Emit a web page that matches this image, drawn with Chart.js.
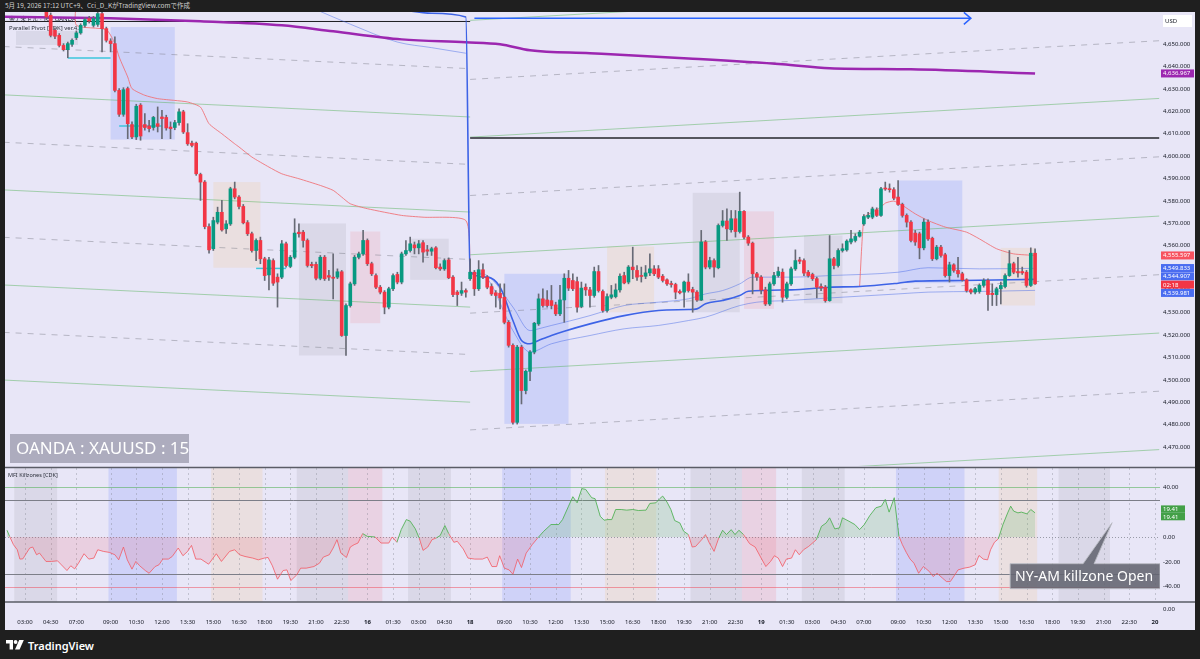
<!DOCTYPE html>
<html lang="ja"><head><meta charset="utf-8"><title>OANDA:XAUUSD 15</title>
<script src="https://cdn.jsdelivr.net/npm/chart.js@4.4.1/dist/chart.umd.min.js"></script>
<style>
html,body{margin:0;padding:0;background:#1f1f1f;width:1200px;height:659px;overflow:hidden}
#hdr{position:absolute;left:5px;top:1px;color:#cfcfcf;font-size:6.5px;line-height:9px;font-family:'Noto Sans CJK JP','Noto Sans',sans-serif;white-space:nowrap}
#wrap{position:absolute;left:5px;top:12px;width:1190px;height:618px;background:#e8e6f7}
#foot{position:absolute;left:6px;top:638px;height:14px;color:#fff;font:600 11px 'Noto Sans',sans-serif;display:flex;align-items:center;gap:4px}
</style></head>
<body>
<div id="hdr">5月 19, 2026 17:12 UTC+9、Cci_D_KがTradingView.comで作成</div>
<div id="wrap"><canvas id="c"></canvas></div>
<div id="foot"><svg width="18" height="10" viewBox="0 0 18 10"><path d="M0 0h7v9.5h-3.4v-6h-3.6z" fill="#fff"/><circle cx="9.6" cy="2" r="1.9" fill="#fff"/><path d="M13.2 0h4.6l-4.2 9.5h-4.6z" fill="#fff"/></svg><span>TradingView</span></div>
<script>
// ---------- time axis (bar index -> label) ----------
const tickIdx  = [0,6,12,20,26,32,38,44,50,56,62,68,74,80,86,92,98,104,112,118,124,130,136,142,148,154,160,166,172,178,184,190,196,204,210,216,222,228,234,240,246,252,258,264];
const tickText = ['03:00','04:30','07:00','09:00','10:30','12:00','13:30','15:00','16:30','18:00','19:30','21:00','22:30','16','01:30','03:00','04:30','18','09:00','10:30','12:00','13:30','15:00','16:30','18:00','19:30','21:00','22:30','19','01:30','03:00','04:30','07:00','09:00','10:30','12:00','13:30','15:00','16:30','18:00','19:30','21:00','22:30','20'];
const dayTicks = [80,104,172,264];
const priceTicks = [4470,4480,4490,4500,4510,4520,4530,4540,4550,4560,4570,4580,4590,4600,4610,4620,4630,4640,4650];
const mfiTicks = [40,0,-20,-40];

// ---------- 15m candles, first bar index ----------
const candleFirstBar = 5;
const opens = [
4665.9,4663.0,4656.3,4654.0,4649.5,4647.6,4650.0,4653.0,4655.1,4658.5,
4661.5,4658.5,4658.9,4663.7,4657.0,4651.5,4650.3,4629.4,4618.7,4630.2,
4614.1,4608.6,4622.8,4614.1,4613.5,4612.8,4614.5,4617.5,4617.3,4613.0,
4612.8,4615.0,4619.8,4610.5,4605.8,4605.8,4591.8,4588.4,4568.5,4558.6,
4570.5,4574.9,4567.5,4569.7,4585.4,4581.7,4577.5,4570.3,4565.3,4557.8,
4562.3,4554.1,4546.9,4553.3,4545.9,4545.9,4560.8,4550.7,4554.8,4566.0,
4566.0,4562.3,4551.6,4551.6,4545.4,4554.8,4546.6,4545.9,4545.9,4548.3,
4519.8,4533.2,4542.9,4554.8,4556.3,4562.3,4551.9,4546.6,4541.4,4539.2,
4532.5,4540.7,4547.1,4543.7,4556.3,4557.8,4560.3,4559.0,4561.3,4558.1,
4557.5,4559.0,4550.4,4549.6,4553.6,4545.9,4539.2,4538.7,4539.9,4545.2,
4548.1,4540.7,4549.2,4545.9,4541.7,4538.9,4538.7,4536.9,4525.7,4515.4,
4481.0,4514.6,4495.2,4503.8,4512.4,4525.0,4536.2,4535.7,4535.4,4533.5,
4529.5,4535.7,4545.4,4544.4,4543.9,4532.8,4541.4,4540.2,4537.7,4548.4,
4539.5,4531.0,4536.9,4537.2,4540.2,4546.6,4543.7,4550.4,4548.9,4546.6,
4546.3,4547.8,4549.6,4549.6,4546.3,4544.7,4542.9,4542.6,4539.5,4539.2,
4543.7,4540.4,4539.2,4535.7,4561.6,4550.4,4553.3,4550.1,4569.0,4571.0,
4567.1,4572.0,4566.3,4575.3,4563.8,4561.1,4547.4,4545.9,4540.2,4533.9,
4542.9,4546.6,4548.1,4536.9,4542.9,4549.6,4553.6,4553.3,4548.1,4547.1,
4545.2,4541.7,4541.4,4535.4,4554.1,4551.1,4557.8,4558.1,4561.6,4562.3,
4564.2,4569.7,4572.7,4572.7,4576.0,4573.5,4585.7,4585.4,4585.0,4581.7,
4578.4,4573.5,4570.5,4565.6,4565.3,4559.0,4570.5,4563.3,4554.1,4559.3,
4555.9,4546.6,4551.4,4548.9,4547.4,4544.7,4540.2,4539.2,4539.5,4542.2,
4544.4,4538.7,4538.1,4540.7,4541.7,4546.6,4551.9,4548.4,4548.4,4548.1,
4542.2,4556.6];
const highs = [
4667.4,4664.0,4657.4,4654.8,4650.3,4651.0,4652.5,4656.0,4659.2,4661.9,
4662.5,4662.5,4665.2,4664.9,4657.7,4652.5,4653.3,4630.2,4630.6,4630.9,
4615.3,4623.2,4623.5,4619.0,4616.0,4617.8,4622.0,4620.5,4618.3,4615.3,
4616.0,4621.2,4620.5,4614.5,4606.7,4606.3,4592.4,4589.1,4569.7,4572.7,
4577.2,4580.2,4571.2,4586.1,4588.4,4582.4,4578.4,4571.2,4566.0,4563.0,
4563.8,4554.8,4554.8,4554.1,4547.4,4562.3,4561.6,4555.6,4572.0,4569.7,
4566.8,4563.0,4552.6,4552.6,4555.6,4555.6,4548.9,4556.3,4549.6,4548.9,
4534.0,4543.7,4555.6,4557.1,4566.8,4563.0,4552.6,4547.4,4542.2,4539.9,
4541.4,4547.4,4548.1,4557.1,4562.3,4563.8,4561.6,4562.3,4562.3,4560.1,
4559.3,4559.6,4551.9,4554.1,4554.5,4546.6,4539.9,4543.7,4540.7,4554.1,
4548.9,4553.3,4551.9,4546.6,4542.9,4539.9,4542.9,4542.9,4526.5,4516.1,
4515.4,4515.4,4504.4,4513.1,4525.7,4538.4,4540.7,4539.9,4542.2,4534.7,
4542.2,4547.4,4548.9,4547.4,4545.9,4543.7,4542.9,4541.4,4550.4,4551.1,
4540.2,4538.4,4542.2,4542.9,4547.4,4548.1,4551.1,4559.3,4551.1,4550.4,
4551.1,4556.3,4551.1,4551.1,4547.1,4545.2,4544.1,4543.2,4540.2,4544.1,
4547.4,4541.4,4539.9,4566.8,4562.3,4554.8,4554.1,4569.7,4575.7,4576.4,
4575.7,4575.7,4583.9,4575.7,4564.5,4561.6,4548.1,4546.6,4541.4,4543.7,
4548.1,4550.4,4549.6,4543.7,4550.4,4558.1,4554.8,4554.1,4548.9,4547.7,
4545.9,4542.9,4542.2,4564.5,4554.8,4558.6,4560.8,4562.6,4566.8,4565.3,
4566.8,4573.9,4574.9,4577.2,4576.9,4586.1,4588.4,4587.6,4585.9,4589.1,
4579.0,4574.2,4571.2,4566.8,4566.0,4572.0,4571.5,4563.8,4560.1,4560.1,
4556.6,4552.6,4551.9,4554.8,4548.1,4545.2,4540.7,4541.4,4542.9,4545.2,
4545.2,4542.9,4541.4,4543.7,4547.4,4557.8,4552.6,4554.8,4550.4,4548.9,
4559.0,4558.6];
const lows = [
4661.0,4653.3,4652.5,4648.8,4647.0,4644.0,4649.1,4652.1,4654.5,4657.7,
4659.5,4657.7,4658.0,4646.6,4651.0,4646.6,4628.7,4617.8,4617.8,4607.8,
4607.8,4607.4,4607.1,4611.6,4610.8,4611.6,4610.8,4607.8,4611.6,4607.8,
4611.8,4613.8,4610.1,4604.8,4604.1,4591.4,4580.2,4567.5,4556.6,4557.8,
4569.7,4566.5,4565.5,4569.0,4580.9,4576.4,4569.7,4564.5,4557.1,4553.3,
4551.9,4544.4,4540.2,4542.2,4532.5,4545.2,4550.4,4550.1,4554.1,4563.8,
4559.3,4550.4,4550.1,4544.7,4544.7,4544.4,4544.4,4536.2,4545.2,4519.4,
4510.9,4532.5,4542.2,4554.1,4555.6,4551.1,4546.6,4540.7,4538.4,4529.5,
4531.7,4539.9,4542.9,4542.9,4555.6,4557.1,4556.3,4556.3,4552.6,4555.6,
4555.6,4549.6,4548.9,4548.9,4545.2,4537.2,4533.2,4537.7,4536.9,4544.4,
4537.7,4539.9,4545.2,4540.7,4537.7,4532.5,4531.7,4525.0,4514.6,4480.2,
4480.2,4489.2,4493.7,4499.6,4511.6,4524.3,4532.5,4532.5,4531.7,4528.7,
4528.7,4525.7,4539.9,4539.9,4530.2,4532.2,4537.7,4532.5,4536.9,4539.2,
4530.2,4530.2,4536.2,4536.6,4539.2,4542.9,4542.9,4545.2,4544.4,4543.7,
4545.2,4546.6,4546.6,4545.2,4543.7,4542.2,4541.4,4536.2,4538.4,4532.5,
4539.2,4530.2,4535.1,4535.4,4549.6,4549.6,4545.9,4549.6,4568.3,4562.3,
4566.0,4563.8,4565.6,4563.0,4560.1,4538.4,4544.4,4538.4,4533.2,4533.2,
4542.2,4545.9,4534.7,4536.2,4542.2,4548.9,4551.9,4546.6,4545.9,4544.4,
4536.6,4539.9,4534.7,4535.1,4549.6,4550.4,4557.1,4557.5,4560.8,4561.6,
4563.8,4569.0,4572.0,4572.0,4573.0,4573.0,4584.7,4583.9,4580.5,4578.0,
4572.7,4568.3,4561.6,4560.1,4554.1,4558.1,4562.3,4553.3,4553.6,4554.8,
4545.9,4543.7,4548.1,4545.9,4544.1,4539.2,4538.4,4538.4,4538.7,4541.4,
4531.0,4533.2,4533.2,4533.9,4541.1,4546.2,4547.4,4545.9,4547.1,4541.4,
4541.7,4542.6];
const closes = [
4662.2,4654.0,4653.6,4649.5,4647.6,4650.3,4651.8,4655.1,4658.5,4661.0,
4660.4,4661.5,4663.7,4657.0,4651.8,4650.3,4629.4,4618.7,4629.7,4614.5,
4608.6,4622.3,4609.0,4612.8,4612.3,4617.3,4613.3,4616.8,4612.6,4612.3,
4615.0,4619.8,4610.8,4605.5,4604.8,4592.1,4588.4,4568.5,4558.1,4571.2,
4574.9,4567.0,4569.7,4585.4,4581.7,4577.5,4570.2,4565.3,4557.8,4562.3,
4554.1,4546.6,4553.6,4543.2,4543.7,4560.8,4551.1,4554.8,4565.6,4565.3,
4562.3,4551.1,4551.0,4545.4,4554.8,4545.2,4545.9,4545.4,4548.3,4519.8,
4533.2,4542.9,4554.8,4556.3,4562.3,4551.9,4547.4,4541.4,4539.2,4532.5,
4540.7,4546.6,4543.7,4556.3,4557.8,4560.8,4559.0,4560.8,4557.1,4557.5,
4558.6,4550.1,4549.6,4553.3,4545.6,4538.1,4538.1,4539.9,4539.2,4548.1,
4540.7,4549.2,4545.9,4541.4,4538.4,4537.7,4536.6,4525.7,4515.4,4481.0,
4514.6,4495.2,4503.8,4512.4,4525.3,4536.2,4533.2,4533.2,4533.2,4529.5,
4535.7,4545.4,4541.0,4540.7,4532.5,4541.0,4540.2,4537.7,4548.4,4539.9,
4531.0,4537.2,4538.0,4540.2,4546.3,4543.3,4550.4,4549.2,4545.9,4546.2,
4547.8,4549.6,4547.4,4545.9,4544.4,4542.9,4542.6,4539.2,4538.9,4543.7,
4539.9,4539.2,4535.7,4561.6,4550.4,4553.3,4550.4,4569.0,4571.0,4567.5,
4572.0,4566.3,4575.3,4563.8,4561.1,4547.4,4545.9,4540.2,4533.9,4542.9,
4546.6,4548.4,4536.9,4542.9,4549.6,4553.3,4553.0,4547.7,4546.6,4545.2,
4541.4,4541.1,4535.4,4554.1,4551.1,4557.8,4558.6,4562.0,4563.0,4564.1,
4566.0,4573.0,4573.5,4576.4,4573.5,4585.4,4585.3,4585.0,4581.2,4578.4,
4573.5,4570.5,4562.3,4561.6,4559.0,4570.5,4563.0,4554.1,4559.3,4555.6,
4546.6,4551.4,4548.9,4547.4,4544.7,4539.9,4539.2,4540.7,4542.2,4544.4,
4538.1,4538.1,4540.7,4542.2,4546.6,4551.9,4548.1,4547.8,4547.8,4542.2,
4556.6,4542.9];

// ---------- overlay lines (bar index, price) ----------
const purpleBar = [-5,20,41,60,72,88,103,111,118,132,155,177,188,207,236];
const purpleVal = [4662.3,4661.6,4660.3,4658.5,4655.8,4652.2,4650.9,4650.0,4647.3,4646.0,4643.7,4641.1,4639.3,4638.8,4636.967];
const pinkBar = [12,12,19,21,22,24,25,28,31,35,38,41,43,46,49,50,53,57,60,64,69,72,74,76,80,88,93,103,104,150,195,196,197,200,201,203,205,208,211,215,220,223,227,231,236];
const pinkVal = [4670,4658.5,4656.5,4650.3,4644.3,4635.4,4630.2,4627.2,4625.7,4624.9,4624.2,4621.9,4614.5,4610.0,4605.5,4604.1,4599.6,4595.1,4592.1,4589.9,4586.9,4584.7,4581.7,4578.7,4576.5,4573.5,4572.7,4571.2,4548.1,null,4541.7,4572.7,4573.9,4577.2,4579.0,4579.9,4578.0,4574.2,4571.2,4568.3,4566.0,4563.0,4558.6,4556.3,4555.597];
const vwapBar = [85,95,103,104,108,111,114,116,118,120,123,126,132,140,148,155,157,159,163,167,169,179,188,195,204,208,219,236];
const vwapMid = [4666.5,4663.9,4662.2,4548.1,4545.9,4541.4,4526.5,4517.6,4516.1,4517.6,4519.8,4521.7,4525.0,4528.7,4531.0,4531.4,4531.7,4534.0,4535.5,4537.7,4539.6,4540.2,4541.4,4541.7,4543.2,4544.1,4544.4,4544.907];
const upBar = [104,108,114,118,120,123,126,132,140,148,155,159,163,167,170,179,188,204,211,223,236];
const upVal = [4548.1,4546.6,4532.5,4522.0,4522.8,4524.3,4525.7,4528.7,4533.2,4534.7,4536.2,4538.4,4539.9,4542.9,4545.9,4545.9,4546.6,4548.1,4550.1,4549.6,4549.833];
const loBar = [104,108,114,118,123,132,140,148,155,159,167,171,179,188,204,211,223,236];
const loVal = [4548.1,4545.2,4522.0,4512.4,4516.1,4519.8,4522.8,4524.3,4526.5,4528.0,4533.2,4534.7,4535.5,4536.6,4538.4,4539.2,4539.5,4539.981];
const friBandBar = [68,76,87,95,103];
const friBandVal = [4665.5,4659.0,4651.0,4648.5,4646.0];
// parallel pivot lines: [start price, end price]
const friLineBars = [-5,104];
const friSolid  = [[4627.4,4617.5],[4584.9,4575.0],[4542.4,4532.5],[4499.9,4490.0]];
const friDashed = [[4649.0,4639.1],[4606.2,4596.3],[4563.7,4553.8],[4521.2,4511.3]];
const monLineBars = [104,265];
const monSolid  = [[4660.7,4678.0],[4608.5,4625.8],[4555.9,4573.2],[4503.7,4520.9],[4451.5,4468.8]];
const monDashed = [[4634.3,4651.6],[4582.4,4599.7],[4529.8,4547.0],[4477.6,4494.9]];
// pivot marks (cyan), horizontal levels
const cyanStart = [10,22,54], cyanEnd = [20,32,61], cyanVal = [4643.9,4613.5,4549.8];
const levelStart = [-5,104], levelEnd = [104,265], levelVal = [4660.2,4608.1];
const arrowBars = [105,221], arrowVal = 4661.6;
// killzone boxes in price pane
const boxStart = [20,44,64,76,90,112,136,156,168,182,204,228];
const boxEnd   = [35,55,75,83,99,127,147,167,175,191,219,236];
const boxHigh  = [4657.7,4588.4,4569.9,4566.3,4563.1,4547.4,4559.6,4583.6,4575.3,4564.5,4589.1,4559.0];
const boxLow   = [4607.4,4550.1,4510.9,4525.3,4544.7,4480.3,4530.2,4530.2,4531.7,4534.2,4543.2,4533.2];
const boxKind  = ['b','t','g','p','g','b','t','g','p','g','b','t'];
// killzone background columns in MFI pane
const zoneStart = [-2,20,44,64,76,90,112,136,156,168,182,204,228,242];
const zoneEnd   = [7,35,55,75,83,99,127,147,167,175,191,219,236,253];
const zoneKind  = ['g','b','t','g','p','g','b','t','g','p','g','b','t','g'];

// ---------- MFI ----------
const mfiBar = [-4.2,-3.6,-2.7,-1.8,-1.2,-0.5,0.2,1.1,1.8,2.7,3.4,4.0,4.9,6.2,7.6,8.5,9.8,10.7,11.6,12.5,13.8,14.9,16.1,17.0,18.3,19.7,21.0,21.9,23.0,23.9,25.0,25.9,26.8,28.1,29.0,30.4,31.3,32.2,33.5,34.4,35.8,36.9,38.0,38.9,39.9,41.1,42.9,44.7,45.9,47.8,49.0,50.1,51.4,53.2,54.5,55.9,56.8,57.8,59.0,60.3,61.2,62.1,63.5,64.4,65.7,67.5,68.8,69.7,71.1,72.0,72.9,73.8,75.1,76.0,76.9,77.8,78.9,80.0,81.8,83.2,85.0,85.8,86.9,87.9,89.1,90.0,91.2,92.1,93.0,94.1,95.1,96.1,97.0,98.1,99.0,100.2,101.0,102.4,103.5,105.1,106.9,108.0,109.1,110.2,110.9,112.0,113.1,114.0,115.1,116.0,117.1,118.5,119.8,121.2,122.9,124.7,125.6,127.0,128.0,129.0,130.1,131.0,132.4,133.2,
134.4,135.3,136.2,137.1,138.0,139.3,140.6,142.0,143.3,145.1,146.0,147.4,148.3,149.0,150.0,150.9,151.8,153.0,153.9,155.0,155.9,156.7,158.1,159.0,159.9,161.0,162.1,163.0,163.9,165.0,165.9,166.8,167.9,169.3,170.6,172.0,173.1,174.2,175.1,176.0,177.0,177.9,179.1,180.0,180.9,181.9,183.1,184.9,186.1,187.2,188.0,189.2,190.3,191.0,192.5,193.9,195.0,196.1,197.4,198.8,200.1,201.0,201.9,203.1,204.2,205.0,205.9,206.8,207.7,208.8,209.9,211.3,212.2,213.1,214.4,215.3,216.2,217.1,218.0,219.4,220.7,222.0,222.9,223.9,224.9,225.6,226.5,227.4,228.5,229.6,230.3,231.0,232.0,232.8,234.1,235.0,236.0];
const mfiVal = [5.4,0.5,-6.2,-10.3,-17.8,-17.6,-13.8,-8.9,-8.1,-14.3,-13.0,-15.7,-19.7,-19.7,-19.2,-22.4,-27.0,-23.2,-25.7,-21.1,-13.5,-17.8,-17.0,-10.3,-11.6,-12.4,-14.3,-18.4,-8.1,-18.4,-25.9,-19.7,-23.2,-27.0,-29.2,-23.8,-22.4,-17.8,-17.8,-15.7,-8.9,-15.1,-11.6,-6.8,-17.8,-17.8,-21.9,-13.5,-19.7,-11.6,-10.3,-14.3,-15.7,-17.0,-18.4,-17.0,-16.5,-23.2,-34.0,-27.0,-26.5,-35.1,-30.5,-25.1,-25.1,-23.8,-21.1,-16.2,-14.3,-8.9,-2.2,-13.0,-16.5,-8.1,-6.2,-4.9,2.7,0.5,0,-4.9,-4.9,0,-4.3,5.9,14.0,12.7,6.5,-0.8,-10.8,-8.1,-2.2,-0.8,1.1,9.2,2.7,-4.3,-3.5,-9.7,-17.0,-17.8,-17.8,-16.2,-23.8,-23.8,-15.1,-25.1,-26.5,-30.0,-17.8,-24.6,-13.0,-6.2,-0.8,4.6,10.0,10.0,14.0,24.8,32.4,27.5,38.9,38.3,31.6,30.8,
16.7,13.5,14.0,14.0,22.1,22.1,21.6,22.1,21.3,21.6,27.0,27.5,30.8,32.9,28.1,22.1,13.2,11.3,4.6,1.9,-8.1,-7.6,-2.2,1.9,-4.9,-11.6,-0.8,5.4,1.9,5.9,1.9,5.4,1.9,-5.4,-8.1,-17.0,-23.8,-19.7,-15.1,-17.0,-23.8,-17.8,-17.0,-10.3,-14.3,-10.3,-7.6,-2.2,8.6,11.3,15.4,6.5,7.3,15.4,12.7,10.0,5.9,10.0,17.3,23.5,24.8,30.2,20.0,31.6,0.5,-6.2,-12.4,-17.8,-21.1,-29.2,-23.8,-27.8,-31.9,-29.2,-33.2,-35.9,-35.9,-31.3,-26.5,-25.1,-24.3,-22.4,-14.9,-17.8,-18.4,-10.3,-4.3,-1.6,10.0,19.4,24.8,20.8,19.4,20.0,18.6,22.1,19.41];
const mfiLevels = [40,30,0,-30,-40];
const mfiLevelKind = ['up','mid','zero','mid','dn'];

// ---------- right-axis tags ----------
const tagVal   = [4636.967,4555.597,4549.833,4544.907,4539.981];
const tagColor = ['#9c27b0','#f7525f','#4a6cf0','#4a6cf0','#4a6cf0'];
const countdownText = '02:18';
const calloutBar = 254, calloutVal = 11.5;

// ---------- layout constants (pixels inside canvas) ----------
const MAIN_BOTTOM = 454, MFI_TOP = 456, MFI_BOTTOM = 590, CHART_BOTTOM = 603;
const FONT = '"Noto Sans","Noto Sans CJK JP",sans-serif';
const GREEN = '#089981', RED = '#f23645', WICK = '#676a75';
const boxFill  = {b:'rgba(66,103,255,0.16)', t:'rgba(255,152,0,0.09)', g:'rgba(120,123,134,0.13)', p:'rgba(242,54,69,0.10)'};
const zoneFill = {b:'rgba(66,103,255,0.15)', t:'rgba(255,152,0,0.09)', g:'rgba(120,123,134,0.13)', p:'rgba(242,54,69,0.11)'};
const fmtPrice = v => v.toLocaleString('en-US',{minimumFractionDigits:3,maximumFractionDigits:3});

const PRICE_CLIP = {left:0, top:0, right:0, bottom:-(CHART_BOTTOM-MAIN_BOTTOM)};
const MFI_CLIP = {left:0, top:-MFI_TOP, right:0, bottom:-(CHART_BOTTOM-MFI_BOTTOM)};
const pts = (xs, ys) => xs.map((b,k)=>({x:b, y:ys[k]}));
function lineDs(data, color, width, extra){
  return Object.assign({type:'line', data, borderColor:color, borderWidth:width, pointRadius:0, pointHoverRadius:0,
    fill:false, yAxisID:'y', clip:PRICE_CLIP, spanGaps:false, tension:0}, extra||{});
}

const bars = opens.map((o,k)=>candleFirstBar+k);
const bodyColors = opens.map((o,k)=> closes[k]>=o ? GREEN : RED);

const datasets = [];
datasets.push({type:'bar', data: bars.map((b,k)=>({x:b, y:[opens[k],closes[k]]})), backgroundColor: bodyColors,
  barThickness:3, minBarLength:1, grouped:false, borderWidth:0, yAxisID:'y', clip:PRICE_CLIP, order:0});
datasets.push({type:'bar', data: bars.map((b,k)=>({x:b, y:[lows[k],highs[k]]})), backgroundColor: WICK,
  barThickness:1, grouped:false, borderWidth:0, yAxisID:'y', clip:PRICE_CLIP, order:1});
datasets.push({type:'line', data: pts(mfiBar, mfiVal), yAxisID:'y2', clip:MFI_CLIP, order:2,
  borderWidth:1, pointRadius:0, tension:0,
  segment:{borderColor: c => ((c.p0.parsed.y + c.p1.parsed.y)/2 >= 0 ? 'rgba(76,175,80,0.85)' : 'rgba(242,90,100,0.8)')},
  fill:{target:{value:0}, above:'rgba(76,175,80,0.18)', below:'rgba(242,54,69,0.13)'}});
cyanStart.forEach((s,k)=> datasets.push(lineDs([{x:s,y:cyanVal[k]},{x:cyanEnd[k],y:cyanVal[k]}], '#3cc6dc', 1.5, {order:3})));
datasets.push(lineDs(pts(vwapBar, vwapMid), '#3d63e6', 1.6, {order:4, cubicInterpolationMode:'monotone'}));
datasets.push(lineDs(pts(purpleBar, purpleVal), '#9c27b0', 2.5, {order:5, cubicInterpolationMode:'monotone'}));
datasets.push(lineDs(pts(pinkBar, pinkVal), 'rgba(240,110,115,0.85)', 1, {order:6, tension:0.2}));
datasets.push(lineDs(pts(upBar, upVal), 'rgba(61,99,230,0.45)', 1, {order:7, cubicInterpolationMode:'monotone'}));
datasets.push(lineDs(pts(loBar, loVal), 'rgba(61,99,230,0.45)', 1, {order:7, cubicInterpolationMode:'monotone'}));
datasets.push(lineDs(pts(friBandBar, friBandVal), 'rgba(61,99,230,0.45)', 1, {order:7, cubicInterpolationMode:'monotone'}));
datasets.push(lineDs([{x:levelStart[0],y:levelVal[0]},{x:levelEnd[0],y:levelVal[0]}], '#1b1b1f', 1, {order:8}));
datasets.push(lineDs([{x:levelStart[1],y:levelVal[1]},{x:levelEnd[1],y:levelVal[1]}], '#55565e', 2, {order:8}));
datasets.push(lineDs([{x:arrowBars[0],y:arrowVal},{x:arrowBars[1],y:arrowVal}], '#2962ff', 1.5, {order:8}));
function addPivot(barsPair, list, dashed){
  list.forEach(p => datasets.push(lineDs([{x:barsPair[0],y:p[0]},{x:barsPair[1],y:p[1]}],
    dashed ? 'rgba(120,123,134,0.45)' : 'rgba(76,175,80,0.45)', 1, {order:10, borderDash: dashed?[6,6]:[]})));
}
addPivot(friLineBars, friSolid, false); addPivot(friLineBars, friDashed, true);
addPivot(monLineBars, monSolid, false); addPivot(monLineBars, monDashed, true);

function relax(items, h){
  items.sort((a,b)=>a.yc-b.yc);
  for(let it=0; it<30; it++){
    for(let k=1;k<items.length;k++){
      const d = items[k].yc - items[k-1].yc;
      if(d < h){ const m=(h-d)/2; items[k].yc += m; items[k-1].yc -= m; }
    }
  }
  return items;
}

const panes = {
  id:'panes',
  beforeDatasetsDraw(chart){
    const {ctx, chartArea:a, scales:{x,y,y2}} = chart;
    ctx.save();
    ctx.beginPath(); ctx.rect(a.left, a.top, a.right-a.left, MAIN_BOTTOM-a.top); ctx.clip();
    boxStart.forEach((s,k)=>{
      const l=x.getPixelForValue(s), r=x.getPixelForValue(boxEnd[k]);
      const t=y.getPixelForValue(boxHigh[k]), b=y.getPixelForValue(boxLow[k]);
      ctx.fillStyle = boxFill[boxKind[k]]; ctx.fillRect(l,t,r-l,b-t);
    });
    ctx.fillStyle='rgba(200,200,215,0.45)'; ctx.fillRect(11, 19, 62, 14);
    ctx.font = '6px ' + FONT; ctx.textBaseline='middle'; ctx.fillStyle='#2a2e39';
    ctx.fillText('金 / 米ドル · 15 · OANDA', 4, 7);
    ctx.fillText('Parallel Pivot [CDK] ver.4.1', 4, 16);
    ctx.restore();

    ctx.save();
    ctx.beginPath(); ctx.rect(a.left, MFI_TOP, a.right-a.left, MFI_BOTTOM-MFI_TOP); ctx.clip();
    zoneStart.forEach((s,k)=>{
      const l=x.getPixelForValue(s-0.5), r=x.getPixelForValue(zoneEnd[k]+0.5);
      ctx.fillStyle = zoneFill[zoneKind[k]]; ctx.fillRect(l, MFI_TOP, r-l, MFI_BOTTOM-MFI_TOP);
    });
    ctx.strokeStyle='rgba(120,123,134,0.35)'; ctx.lineWidth=1; ctx.setLineDash([2,3]);
    tickIdx.forEach(t=>{ const px=Math.round(x.getPixelForValue(t))+0.5; ctx.beginPath(); ctx.moveTo(px,MFI_TOP); ctx.lineTo(px,MFI_BOTTOM); ctx.stroke(); });
    mfiLevels.forEach((v,k)=>{
      const kind = mfiLevelKind[k]; const py = Math.round(y2.getPixelForValue(v))+0.5;
      ctx.setLineDash(kind==='zero'?[1,2]:[]);
      ctx.strokeStyle = kind==='up' ? 'rgba(76,175,80,0.55)' : kind==='dn' ? 'rgba(242,54,69,0.45)' : kind==='zero' ? 'rgba(120,123,134,0.7)' : '#7c7e88';
      ctx.beginPath(); ctx.moveTo(a.left,py); ctx.lineTo(a.right,py); ctx.stroke();
    });
    ctx.restore();
  },
  afterDraw(chart){
    const {ctx, chartArea:a, scales:{x,y,y2}} = chart;
    const W = chart.width;
    ctx.save();
    ctx.strokeStyle='#5a5c66'; ctx.lineWidth=1.5;
    [MAIN_BOTTOM+1.5, MFI_BOTTOM].forEach(yy=>{ ctx.beginPath(); ctx.moveTo(0,yy); ctx.lineTo(W,yy); ctx.stroke(); });

    // arrow head
    const ax = x.getPixelForValue(arrowBars[1]), ay = y.getPixelForValue(arrowVal);
    ctx.strokeStyle='#2962ff'; ctx.lineWidth=1.5;
    ctx.beginPath(); ctx.moveTo(ax-7, ay-6); ctx.lineTo(ax, ay); ctx.lineTo(ax-7, ay+6); ctx.stroke();

    // USD box
    ctx.fillStyle='#ffffff'; ctx.fillRect(a.right+3, 3, 29, 12);
    ctx.fillStyle='#131722'; ctx.font='6px '+FONT; ctx.textBaseline='middle'; ctx.fillText('USD', a.right+5, 9);

    // price tags
    const tags = tagVal.map((v,k)=>({yc:y.getPixelForValue(v), text:fmtPrice(v), bg:tagColor[k]}));
    const main = tags.slice(1);
    main.push({yc:y.getPixelForValue(closes[closes.length-1]), text:countdownText, bg:RED});
    relax(main, 8.3);
    [tags[0]].concat(main).forEach(t=>{
      ctx.fillStyle=t.bg; ctx.fillRect(a.right+1, t.yc-4, 33, 8);
      ctx.fillStyle='#fff'; ctx.font='6px '+FONT; ctx.fillText(t.text, a.right+3, t.yc+0.3);
    });

    // MFI axis labels
    ctx.fillStyle='#131722'; ctx.font='6px '+FONT;
    mfiTicks.forEach(v=> ctx.fillText(v.toFixed(2), a.right+3, y2.getPixelForValue(v)));
    ctx.fillText('0.00', a.right+3, (MFI_BOTTOM+CHART_BOTTOM)/2+1);
    const lastMfi = mfiVal[mfiVal.length-1];
    const mt = relax([{yc:y2.getPixelForValue(lastMfi)},{yc:y2.getPixelForValue(lastMfi)}], 7.5);
    mt.forEach(t=>{
      ctx.fillStyle='#43a047'; ctx.fillRect(a.right+1, t.yc-3.7, 24, 7.4);
      ctx.fillStyle='#fff'; ctx.fillText(lastMfi.toFixed(2), a.right+3, t.yc+0.3);
    });

    // MFI legend
    ctx.fillStyle='#2a2e39'; ctx.font='5.5px '+FONT; ctx.fillText('MFI Killzones [CDK]', 3, MFI_TOP+7);

    // watermark symbol box
    ctx.fillStyle='rgba(150,150,168,0.72)'; ctx.fillRect(5, 422, 179, 29);
    ctx.fillStyle='#ffffff'; ctx.font='17px '+FONT; ctx.fillText('OANDA : XAUUSD : 15', 11, 437);

    // callout
    const tx = x.getPixelForValue(calloutBar), ty = y2.getPixelForValue(calloutVal);
    const bl = tx-102, bt = ty+41, bb = bt+25, br = a.right;
    ctx.save();
    ctx.beginPath(); ctx.rect(a.left, MFI_TOP, a.right-a.left, MFI_BOTTOM-MFI_TOP+2); ctx.clip();
    ctx.beginPath();
    ctx.moveTo(bl, bt); ctx.lineTo(tx-29, bt); ctx.lineTo(tx, ty); ctx.lineTo(tx-18, bt);
    ctx.lineTo(br, bt); ctx.lineTo(br, bb); ctx.lineTo(bl, bb); ctx.closePath();
    ctx.fillStyle='rgba(98,100,112,0.88)'; ctx.fill();
    ctx.strokeStyle='rgba(185,187,195,0.9)'; ctx.lineWidth=1; ctx.stroke();
    ctx.fillStyle='#ffffff'; ctx.font='14px '+FONT; ctx.textBaseline='middle';
    ctx.fillText('NY-AM killzone Open', bl+5, (bt+bb)/2+0.5);
    ctx.restore();
    ctx.restore();
  }
};

new Chart(document.getElementById('c'), {
  type:'bar',
  data:{datasets},
  options:{
    responsive:true, maintainAspectRatio:false, animation:false,
    layout:{padding:0, autoPadding:false},
    events:[],
    plugins:{legend:{display:false}, tooltip:{enabled:false}},
    scales:{
      x:{type:'linear', min:-4.673, max:265.19, offset:false, position:'bottom',
        grid:{display:false, drawTicks:false, offset:false}, border:{display:false},
        afterBuildTicks: s => { s.ticks = tickIdx.map(v=>({value:v})); },
        afterFit: s => { s.height = 15; s.paddingLeft = 0; s.paddingRight = 0; s.paddingTop = 0; s.paddingBottom = 0; },
        ticks:{autoSkip:false, maxRotation:0, minRotation:0, padding:4, color:'#131722',
          font: c => ({size:6, family:FONT, weight: (c.tick && dayTicks.includes(c.tick.value)) ? 'bold' : 'normal'}),
          callback: v => tickText[tickIdx.indexOf(v)] }
      },
      y:{type:'linear', position:'right', min:4394.85, max:4664.44, beginAtZero:false,
        grid:{display:false, drawTicks:false}, border:{display:false},
        afterBuildTicks: s => { s.ticks = priceTicks.map(v=>({value:v})); },
        afterFit: s => { s.width = 35; s.paddingTop = 0; s.paddingBottom = 0; s.paddingLeft = 0; s.paddingRight = 0; },
        ticks:{padding:3, color:'#131722', font:{size:6, family:FONT}, callback: v => fmtPrice(v)}
      },
      y2:{type:'linear', display:false, min:-62.8, max:422.5, beginAtZero:false}
    }
  },
  plugins:[panes]
});
</script>
</body></html>
